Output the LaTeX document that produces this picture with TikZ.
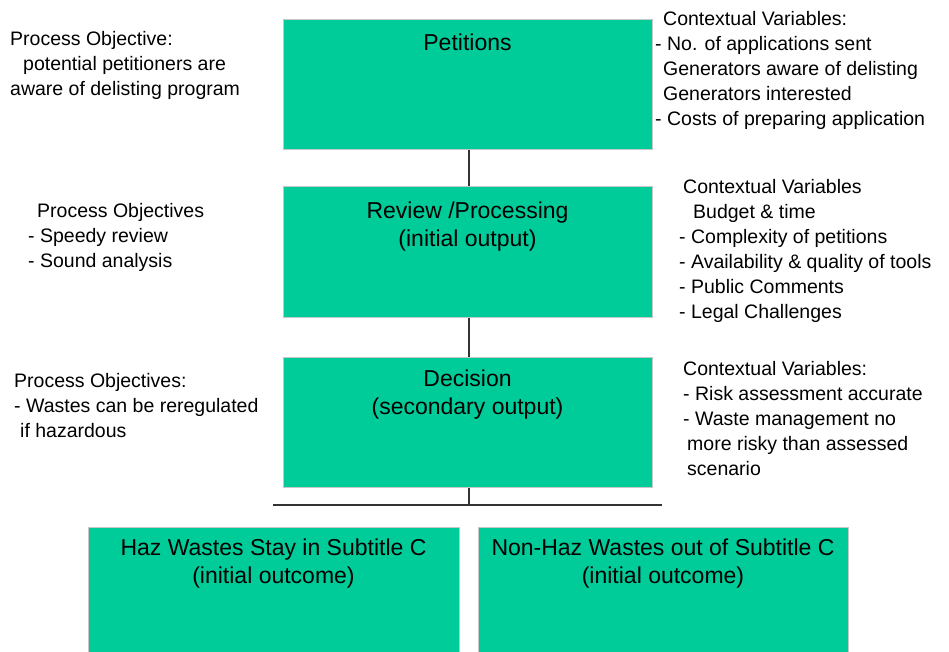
\documentclass[tikz,border=0pt]{standalone}
\usepackage{fontspec}
\setmainfont{Liberation Sans}
\definecolor{boxgreen}{RGB}{0,204,153}
\definecolor{linegray}{RGB}{51,51,51}
\begin{document}
\begin{tikzpicture}[x=1pt,y=-1pt,
  box/.style={fill=boxgreen,draw=black!22,line width=0.8pt,inner sep=0pt,anchor=north west},
  boxtext/.style={font=\fontsize{23}{28}\selectfont,align=center,inner sep=0pt,anchor=north},
  sidetext/.style={font=\fontsize{19.5}{25}\selectfont,align=left,inner sep=0pt,anchor=north west},
  conn/.style={draw=linegray,line width=1.4pt}]
\useasboundingbox (0,0) rectangle (949,652);
% boxes
\node[box,minimum width=369pt,minimum height=130pt] (pet) at (283,19) {};
\node[box,minimum width=369pt,minimum height=131pt] (rev) at (283,186) {};
\node[box,minimum width=369pt,minimum height=130pt] (dec) at (283,357) {};
\node[box,minimum width=371pt,minimum height=140pt] (haz) at (88,527) {};
\node[box,minimum width=370pt,minimum height=140pt] (non) at (478,527) {};
% box texts
\node[boxtext] (petl) at (467.5,33.5) {Petitions};
\node[boxtext] (revl) at (467.5,201.5) {Review /Processing\\(initial output)};
\node[boxtext] (decl) at (467.5,369.5) {Decision\\(secondary output)};
\node[boxtext] (hazl) at (273.5,538.5) {Haz Wastes Stay in Subtitle C\\(initial outcome)};
\node[boxtext] (nonl) at (663,538.5) {Non-Haz Wastes out of Subtitle C\\(initial outcome)};
% connectors
\coordinate (bus) at (469,505);
\coordinate (busl) at (273,505);
\coordinate (busr) at (662,505);
\draw[conn] (pet.south -| bus) -- (rev.north -| bus);
\draw[conn] (rev.south -| bus) -- (dec.north -| bus);
\draw[conn] (dec.south -| bus) -- (bus);
\draw[conn] (busl) -- (busr);
% side texts
\node[sidetext] (obj1) at (10,31) {Process Objective:\\\hspace*{13pt}potential petitioners are\\aware of delisting program};
\node[sidetext] (ctx1) at (655,11) {\hspace*{8pt}Contextual Variables:\\- No. of applications sent\\\hspace*{8pt}Generators aware of delisting\\\hspace*{8pt}Generators interested\\- Costs of preparing application};
\node[sidetext] (obj2) at (28,203) {\hspace*{9pt}Process Objectives\\- Speedy review\\- Sound analysis};
\node[sidetext] (ctx2) at (679,179) {\hspace*{4pt}Contextual Variables\\\hspace*{14pt}Budget \& time\\- Complexity of petitions\\- Availability \& quality of tools\\- Public Comments\\- Legal Challenges};
\node[sidetext] (obj3) at (14,373) {Process Objectives:\\- Wastes can be reregulated\\\hspace*{6pt}if hazardous};
\node[sidetext] (ctx3) at (683,361) {Contextual Variables:\\- Risk assessment accurate\\- Waste management no\\\hspace*{4pt}more risky than assessed\\\hspace*{4pt}scenario};
\end{tikzpicture}
\end{document}
